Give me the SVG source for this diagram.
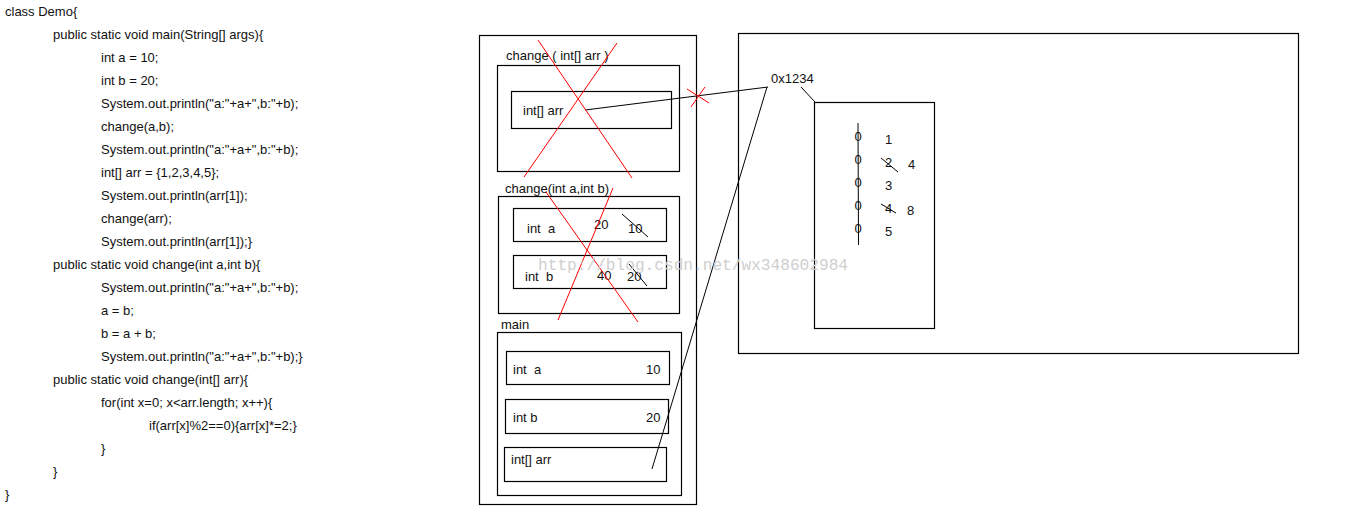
<svg xmlns="http://www.w3.org/2000/svg" width="1360" height="509" viewBox="0 0 1360 509">
<style>
text{font-family:"Liberation Sans",Arial,sans-serif;font-size:13px;fill:#111;white-space:pre}
.box{fill:none;stroke:#000;stroke-width:1.2}
.ln{stroke:#000;stroke-width:1;fill:none}
.red{stroke:#f00;stroke-width:1;fill:none}
.wm{font-family:"Liberation Mono",monospace;font-size:16px;fill:#cfcfcf}
</style>
<rect width="1360" height="509" fill="#fff"/>
<g id="code">
<text x="5" y="16">class Demo{</text>
<text x="53" y="39">public static void main(String[] args){</text>
<text x="101" y="62">int a = 10;</text>
<text x="101" y="85">int b = 20;</text>
<text x="101" y="108">System.out.println("a:"+a+",b:"+b);</text>
<text x="101" y="131">change(a,b);</text>
<text x="101" y="154">System.out.println("a:"+a+",b:"+b);</text>
<text x="101" y="177">int[] arr = {1,2,3,4,5};</text>
<text x="101" y="200">System.out.println(arr[1]);</text>
<text x="101" y="223">change(arr);</text>
<text x="101" y="246">System.out.println(arr[1]);}</text>
<text x="53" y="269">public static void change(int a,int b){</text>
<text x="101" y="292">System.out.println("a:"+a+",b:"+b);</text>
<text x="101" y="315">a = b;</text>
<text x="101" y="338">b = a + b;</text>
<text x="101" y="361">System.out.println("a:"+a+",b:"+b);}</text>
<text x="53" y="384">public static void change(int[] arr){</text>
<text x="101" y="407">for(int x=0; x&lt;arr.length; x++){</text>
<text x="149" y="430">if(arr[x]%2==0){arr[x]*=2;}</text>
<text x="101" y="453">}</text>
<text x="53" y="476">}</text>
<text x="5" y="499">}</text>
</g>
<g id="stack">
<rect class="box" x="479.5" y="35.5" width="217" height="469"/>
</g>
<g id="frame-change-arr">
<text x="506" y="60">change ( int[] arr )</text>
<rect class="box" x="497.5" y="65.5" width="182" height="106"/>
<rect class="box" x="511.5" y="91.5" width="160" height="37"/>
<text x="523" y="115">int[] arr</text>
</g>
<g id="frame-change-ab">
<text x="505" y="193">change(int a,int b)</text>
<rect class="box" x="498.5" y="196.5" width="181" height="117"/>
<rect class="box" x="513.5" y="208.5" width="153" height="33"/>
<text x="527" y="233">int  a</text>
<text x="594" y="229">20</text>
<text x="628" y="233">10</text>
<rect class="box" x="513.5" y="255.5" width="153" height="33"/>
<text x="525" y="281">int  b</text>
<text x="597" y="280">40</text>
<text x="627" y="281">20</text>
</g>
<g id="frame-main">
<text x="501" y="329">main</text>
<rect class="box" x="497.5" y="332.5" width="184" height="163"/>
<rect class="box" x="506.5" y="351.5" width="163" height="33"/>
<text x="513" y="374">int  a</text>
<text x="646" y="374">10</text>
<rect class="box" x="505.5" y="399.5" width="163" height="34"/>
<text x="513" y="422">int b</text>
<text x="646" y="422">20</text>
<rect class="box" x="504.5" y="447.5" width="162" height="34"/>
<text x="511" y="464">int[] arr</text>
</g>
<g id="heap">
<rect class="box" x="738.5" y="33.5" width="560" height="320"/>
<text x="771" y="83">0x1234</text>
</g>
<g id="array">
<rect class="box" x="814.5" y="102.5" width="120" height="226"/>
<line class="ln" x1="858" y1="123" x2="858.5" y2="245"/>
<text x="854.5" y="141">0</text>
<text x="854.5" y="164">0</text>
<text x="854.5" y="187">0</text>
<text x="854.5" y="210">0</text>
<text x="854.5" y="233">0</text>
<text x="885" y="144">1</text>
<text x="885" y="167">2</text>
<text x="885" y="190">3</text>
<text x="885" y="213">4</text>
<text x="885" y="236">5</text>
<text x="908" y="169">4</text>
<text x="907" y="215">8</text>
</g>
<g id="connectors">
<line class="ln" x1="585" y1="110" x2="768" y2="87"/>
<line class="ln" x1="652" y1="469" x2="767" y2="87"/>
<line class="ln" x1="801" y1="87" x2="815" y2="102"/>
<line class="ln" x1="622" y1="214" x2="648" y2="237"/>
<line class="ln" x1="629" y1="264" x2="647" y2="286"/>
<line class="ln" x1="881" y1="158" x2="898" y2="172"/>
<line class="ln" x1="881" y1="204" x2="896" y2="213"/>
</g>
<g id="cross-outs">
<line class="red" x1="538" y1="40" x2="632" y2="178"/>
<line class="red" x1="617" y1="43" x2="524" y2="177"/>
<line class="red" x1="546" y1="192" x2="638" y2="322"/>
<line class="red" x1="613" y1="188" x2="558" y2="320"/>
<line class="red" x1="687" y1="89" x2="709" y2="103"/>
<line class="red" x1="691" y1="107" x2="705" y2="87"/>
</g>
<text class="wm" x="538" y="270" textLength="310" lengthAdjust="spacingAndGlyphs">http://blog.csdn.net/wx348602984</text>
</svg>
